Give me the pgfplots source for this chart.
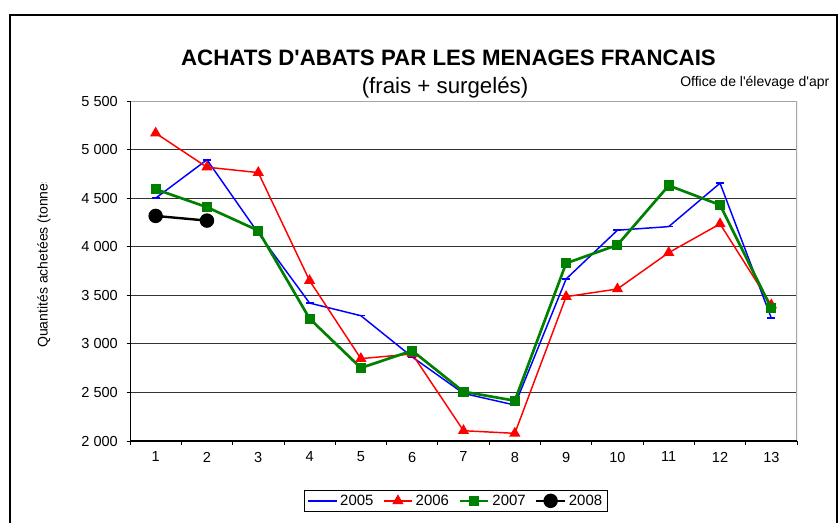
\documentclass[border=0pt]{standalone}
\usepackage{fontspec}
\setmainfont{Liberation Sans}
\usepackage{pgfplots}
\pgfplotsset{compat=1.18}
\definecolor{xlgreen}{RGB}{0,128,0}
\begin{document}
\begin{tikzpicture}[x=0.75pt,y=-0.75pt]
\useasboundingbox (0,0) rectangle (839,522);
\fill[white] (0,0) rectangle (839,522);
\draw[line width=2pt] (10,15) rectangle (837,540);
\node[font=\fontsize{16.7}{20}\selectfont\bfseries, anchor=base, inner sep=0] at (448.5,65) {ACHATS D\textquotesingle ABATS PAR LES MENAGES FRANCAIS};
\node[font=\fontsize{16.7}{20}\selectfont, anchor=base, inner sep=0] at (445,93) {(frais + surgelés)};
\node[font=\fontsize{10.5}{12}\selectfont, anchor=base west, inner sep=0] at (680,86) {Office de l\textquotesingle élevage d\textquotesingle apr};
\begin{scope}
\clip (0,182) rectangle (120,420);
\node[font=\fontsize{10.5}{12}\selectfont, rotate=90, anchor=west, inner sep=0] at (44,348) {Quantités achetées (tonnes)};
\end{scope}
\begin{axis}[
  at={(97.5pt,-330.75pt)}, anchor=south west,
  scale only axis, width=500.25pt, height=255pt,
  xmin=0.5, xmax=13.5, ymin=2000, ymax=5500,
  xtick={1,...,13},
  minor xtick={0.5,1.5,...,13.5},
  major x tick style={draw=none},
  ytick={2000,2500,...,5500},
  tick align=outside,
  xtick pos=bottom, ytick pos=left,
  major tick length=2.6pt, minor tick length=3pt,
  tick style={black, line width=0.6pt},
  ymajorgrids,
  major grid style={black!80, line width=0.6pt},
  axis line style={draw=none},
  ticklabel style={font=\fontsize{10.9}{12}\selectfont},
  /pgf/number format/assume math mode=true,
  /pgf/number format/1000 sep={\ },
  yticklabel style={xshift=-3pt},
  xticklabel style={yshift=-2pt},
  legend columns=4,
  legend style={at={(0.4888,-0.176)}, anchor=center, draw=black, line width=0.6pt,
    font=\fontsize{11.2}{12}\selectfont, inner xsep=2pt, inner ysep=1pt,
    /tikz/every even column/.append style={column sep=5pt}},
  legend image code/.code={\draw[mark repeat=2,mark phase=2] plot coordinates {(0cm,0cm)(0.38cm,0cm)(0.76cm,0cm)};},
]
\addplot[blue, line width=1.1pt, mark=-, mark size=3pt] coordinates {
(1,4500)(2,4895)(3,4140)(4,3420)(5,3290)(6,2865)(7,2490)(8,2370)(9,3668)(10,4170)(11,4207)(12,4654)(13,3264)};
\addlegendentry{2005}
\addplot[red, line width=1.1pt, mark=triangle*, mark size=3.8pt] coordinates {
(1,5169)(2,4819)(3,4763)(4,3651)(5,2848)(6,2896)(7,2106)(8,2079)(9,3486)(10,3565)(11,3939)(12,4235)(13,3400)};
\addlegendentry{2006}
\addplot[xlgreen, line width=2pt, mark=square*, mark size=2.8pt] coordinates {
(1,4592)(2,4407)(3,4166)(4,3260)(5,2752)(6,2930)(7,2508)(8,2415)(9,3830)(10,4018)(11,4630)(12,4430)(13,3366)};
\addlegendentry{2007}
\addplot[black, line width=1.8pt, mark=*, mark size=4.5pt] coordinates {
(1,4317)(2,4269)};
\addlegendentry{2008}
\draw[gray!70, line width=0.8pt] (rel axis cs:0,1) -- (rel axis cs:1,1) -- (rel axis cs:1,0);
\draw[black, line width=0.8pt] (rel axis cs:0,1) -- (rel axis cs:0,0) -- (rel axis cs:1,0);
\end{axis}
\end{tikzpicture}
\end{document}
